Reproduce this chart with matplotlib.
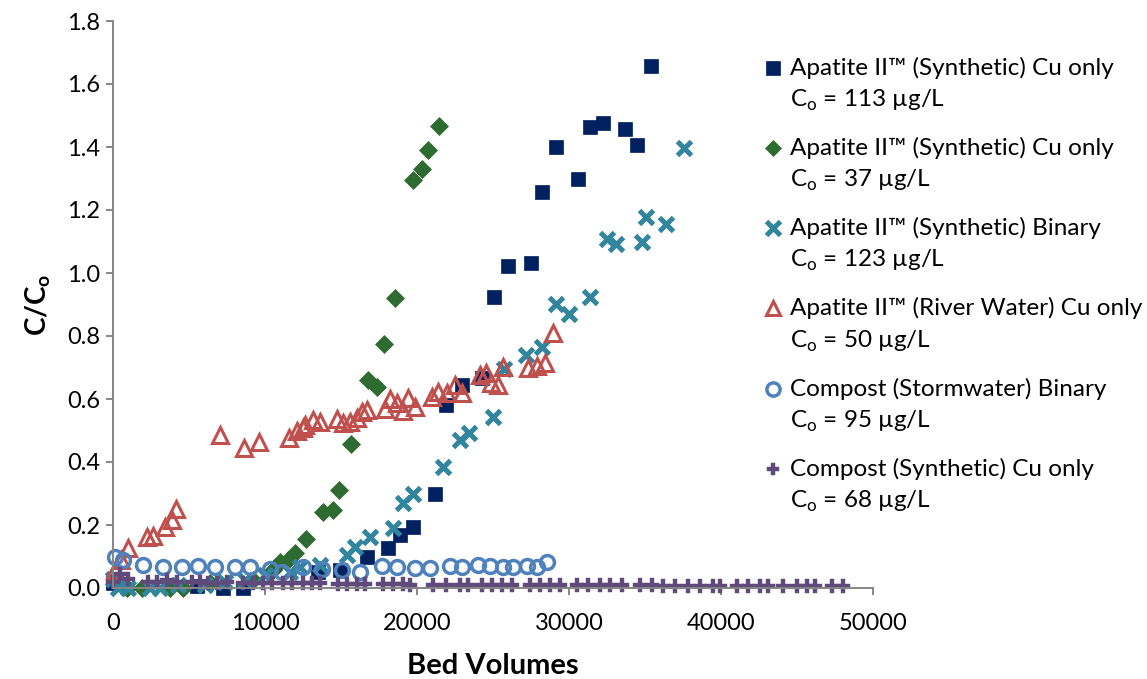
import numpy as np
import matplotlib
matplotlib.use("Agg")
import matplotlib.pyplot as plt
from matplotlib.lines import Line2D
from matplotlib.legend_handler import HandlerLine2D

plt.rcParams["font.family"] = ["Lato", "DejaVu Sans"]
plt.rcParams["mathtext.fontset"] = "custom"
plt.rcParams["mathtext.rm"] = "Lato"
plt.rcParams["mathtext.bf"] = "Lato:bold"

# Apatite II (Synthetic) Cu only, Co = 113 ug/L
apt113_bv = [0, 5530, 7240, 8550, 13490, 14930, 16710, 18090, 18880, 19740,
             21180, 21910, 22960, 24280, 25070, 25990, 27500, 28220, 29140,
             30590, 31380, 32240, 33680, 34470, 35400]
apt113_c = [0.015, 0.005, 0.0, 0.0, 0.05, 0.057, 0.098, 0.127, 0.168, 0.194,
            0.298, 0.581, 0.644, 0.667, 0.924, 1.022, 1.032, 1.257, 1.400,
            1.298, 1.463, 1.476, 1.457, 1.406, 1.657]

# Apatite II (Synthetic) Cu only, Co = 37 ug/L
apt37_bv = [920, 1910, 3750, 4600, 6380, 9210, 10530, 10990, 11510, 11970,
            12700, 13820, 14470, 14870, 15660, 16780, 17370, 17830, 18550,
            19740, 20330, 20720, 21450]
apt37_c = [0.0, 0.0, 0.0, 0.0, 0.016, 0.025, 0.057, 0.083, 0.089, 0.111,
           0.156, 0.241, 0.248, 0.311, 0.457, 0.660, 0.638, 0.775, 0.921,
           1.295, 1.330, 1.390, 1.467]

# Apatite II (Synthetic) binary, Co = 123 ug/L
aptbin_bv = [0, 330, 990, 2430, 3090, 4280, 6050, 7370, 8680, 10000, 11640,
             12300, 13620, 15370, 15920, 16910, 18440, 19100, 19760, 21730,
             22830, 23440, 24980, 25720, 27170, 28220, 29150, 29980, 31380,
             32480, 33090, 34780, 35070, 36380, 37570]
aptbin_c = [0.03, 0.0, 0.0, 0.0, 0.0, 0.01, 0.01, 0.02, 0.025, 0.04, 0.05,
            0.067, 0.073, 0.105, 0.129, 0.163, 0.19, 0.271, 0.298, 0.383,
            0.47, 0.493, 0.544, 0.694, 0.74, 0.766, 0.903, 0.870, 0.925,
            1.108, 1.092, 1.099, 1.177, 1.155, 1.397]

# Apatite II (River Water) Cu only, Co = 50 ug/L
aptriver_bv = [130, 530, 990, 2240, 2630, 3420, 3880, 4150, 7040, 8620, 9610,
               11580, 12110, 12500, 12630, 13160, 13620, 14740, 15130, 15590,
               16050, 16380, 16710, 17890, 18220, 18680, 19080, 19410, 19870,
               20990, 21380, 21970, 22500, 22960, 24150, 24540, 24870, 25330,
               25660, 27300, 27890, 28420, 28950]
aptriver_c = [0.057, 0.089, 0.127, 0.162, 0.165, 0.194, 0.216, 0.251, 0.486,
              0.444, 0.463, 0.476, 0.498, 0.508, 0.517, 0.533, 0.527, 0.537,
              0.524, 0.527, 0.540, 0.559, 0.565, 0.568, 0.600, 0.587, 0.562,
              0.603, 0.575, 0.606, 0.622, 0.619, 0.644, 0.619, 0.676, 0.683,
              0.651, 0.644, 0.702, 0.698, 0.705, 0.714, 0.810]

# Compost (Stormwater) binary, Co = 95 ug/L
cmpstorm_bv = [130, 660, 1970, 3290, 4540, 5590, 6710, 8030, 9010, 10330,
               11120, 12500, 13750, 15040, 16250, 17680, 18660, 19870, 20860,
               22170, 22940, 24030, 24800, 25680, 26290, 27220, 27870, 28530]
cmpstorm_c = [0.100, 0.089, 0.073, 0.067, 0.067, 0.070, 0.067, 0.067, 0.067,
              0.060, 0.051, 0.067, 0.060, 0.057, 0.052, 0.070, 0.068, 0.062,
              0.062, 0.070, 0.068, 0.073, 0.070, 0.068, 0.066, 0.070, 0.068,
              0.084]

# Compost (Synthetic) Cu only, Co = 68 ug/L
cmpsyn_bv = [0, 460, 990, 2300, 2900, 3550, 4210, 5200, 5720, 6250, 6840,
             7500, 8550, 9210, 9870, 10460, 11180, 11780, 12500, 13090, 13620,
             14800, 15400, 16050, 16580, 17760, 18420, 19080, 19540, 21050,
             21930, 22830, 23370, 24260, 24910, 25570, 26230, 27430, 28090,
             28750, 29410, 30510, 31270, 32040, 32700, 33460, 34670, 35440,
             36200, 36970, 37850, 38620, 39490, 39930, 41040, 41800, 42560,
             43110, 44090, 44970, 45630, 46180, 47280, 48040]
cmpsyn_c = [0.02, 0.045, 0.03, 0.02, 0.02, 0.025, 0.02, 0.02, 0.02, 0.015,
            0.015, 0.02, 0.015, 0.015, 0.015, 0.015, 0.015, 0.015, 0.015,
            0.015, 0.015, 0.012, 0.012, 0.012, 0.012, 0.012, 0.012, 0.012,
            0.01, 0.01, 0.01, 0.01, 0.01, 0.01, 0.01, 0.01, 0.01, 0.01, 0.01,
            0.008, 0.008, 0.008, 0.008, 0.008, 0.008, 0.008, 0.008, 0.008,
            0.006, 0.006, 0.006, 0.006, 0.006, 0.006, 0.006, 0.006, 0.006,
            0.006, 0.006, 0.006, 0.006, 0.006, 0.006, 0.006]

series_names = [
    "Apatite II\u2122 (Synthetic) Cu only",
    "Apatite II\u2122 (Synthetic) Cu only",
    "Apatite II\u2122 (Synthetic) Binary",
    "Apatite II\u2122 (River Water) Cu only",
    "Compost (Stormwater) Binary",
    "Compost (Synthetic) Cu only",
]
series_c0 = [113, 37, 123, 50, 95, 68]

x_ticks = [0, 10000, 20000, 30000, 40000, 50000]
y_ticks = [0.0, 0.2, 0.4, 0.6, 0.8, 1.0, 1.2, 1.4, 1.6, 1.8]

fig = plt.figure(figsize=(11.47, 6.79), dpi=100)
ax = fig.add_axes([113 / 1147, 1 - 588 / 679, 760 / 1147, 567 / 679])

styles = [
    dict(marker="s", ms=10.5, mfc="#002060", mec="#002060", mew=0.5),
    dict(marker="D", ms=8.8, mfc="#2E6B30", mec="#2E6B30", mew=0.5),
    dict(marker="x", ms=10.0, mfc="#31859C", mec="#31859C", mew=3.6),
    dict(marker="^", ms=11.0, mfc="none", mec="#C0504D", mew=2.2),
    dict(marker="o", ms=10.0, mfc="none", mec="#4F81BD", mew=2.5),
    dict(marker="P", ms=9.5, mfc="#604A7B", mec="#604A7B", mew=0.3),
]
data = [
    (apt113_bv, apt113_c), (apt37_bv, apt37_c), (aptbin_bv, aptbin_c),
    (aptriver_bv, aptriver_c), (cmpstorm_bv, cmpstorm_c), (cmpsyn_bv, cmpsyn_c),
]

handles = []
labels = []
for (bv, c), st, name, c0 in zip(data, styles, series_names, series_c0):
    (h,) = ax.plot(bv, c, linestyle="none", clip_on=False, **st)
    handles.append(h)
    labels.append(name + "\n" + r"C$_\mathregular{o}$" + f" = {c0} \u00b5g/L")

ax.set_xlim(0, 50000)
ax.set_ylim(0, 1.8)
ax.set_xticks(x_ticks)
ax.set_xticklabels([str(v) for v in x_ticks])
ax.set_yticks(y_ticks)
ax.set_yticklabels([f"{v:.1f}" for v in y_ticks])

for side in ("top", "right"):
    ax.spines[side].set_visible(False)
for side in ("left", "bottom"):
    ax.spines[side].set_color("#868686")
    ax.spines[side].set_linewidth(1.4)
ax.tick_params(axis="both", direction="out", length=5, width=1.4,
               color="#868686", labelsize=17, labelcolor="black")
ax.tick_params(axis="x", pad=13)
ax.tick_params(axis="y", pad=4)

ax.set_xlabel("Bed Volumes", fontsize=21, fontweight="bold", labelpad=13.5)
ax.set_ylabel(r"C/C$_\mathbf{o}$", fontsize=20, fontweight="bold", labelpad=10)


class LiftedMarker(HandlerLine2D):
    """Marker handler that sits on the first line of a two-line label."""

    def __init__(self, lift, **kw):
        super().__init__(**kw)
        self.lift = lift

    def create_artists(self, legend, orig_handle, xdescent, ydescent, width,
                       height, fontsize, trans):
        arts = super().create_artists(legend, orig_handle, xdescent, ydescent,
                                      width, height, fontsize, trans)
        for a in arts:
            a.set_ydata(np.asarray(a.get_ydata(), dtype=float) + self.lift)
        return arts


leg = fig.legend(handles, labels, loc="upper left",
                 bbox_to_anchor=(761 / 1147, 1 - 56.5 / 679),
                 frameon=False, fontsize=17.5, handlelength=1.0,
                 handletextpad=0.2, labelspacing=0.99, borderpad=0,
                 borderaxespad=0,
                 handler_map={Line2D: LiftedMarker(lift=12.3)})
for t in leg.get_texts():
    t.set_linespacing(1.47)
for lh in leg.legend_handles:
    lh.set_markersize(lh.get_markersize() * 0.95)

fig.savefig("out.png", dpi=100)
